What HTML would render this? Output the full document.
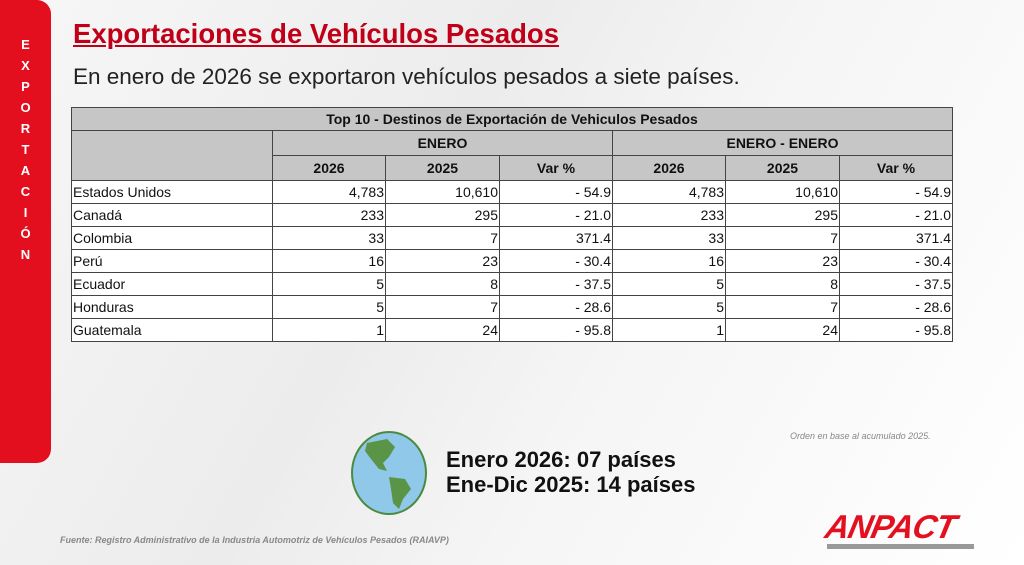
<!DOCTYPE html>
<html><head><meta charset="utf-8"><style>
body{margin:0;width:1024px;height:565px;overflow:hidden;font-family:"Liberation Sans",sans-serif;background:linear-gradient(120deg,#f7f7f7 0%,#ececec 40%,#f5f5f5 60%,#fff 100%);position:relative}
.side{position:absolute;left:0;top:0;width:51px;height:463px;background:#e30f1f;border-radius:0 14px 14px 0}
.side div{position:absolute;left:0;width:51px;text-align:center;color:#fff;font-weight:bold;font-size:13px}
h1{position:absolute;left:73px;top:18px;margin:0;font-size:27.5px;color:#c00018;text-decoration:underline;font-weight:bold}
.sub{position:absolute;left:73px;top:64px;font-size:22.5px;color:#222}
table{position:absolute;left:71px;top:107px;border-collapse:collapse;font-size:14px;color:#111}
td{border:1px solid #444;padding:0 1px;height:23px;box-sizing:border-box}
.h td{background:#c6c6c6;font-weight:bold;text-align:center}
.d td{background:#fff;text-align:right}
.d td:first-child{text-align:left;border-left:1px solid #444}
.globe{position:absolute;left:351px;top:431px;width:72px;height:80px;border-radius:50%;background:#8fc8e8;border:2px solid #4c8b3f;overflow:hidden}
.big{position:absolute;left:446px;top:447px;font-size:22px;font-weight:bold;color:#111;line-height:25px}
.note{position:absolute;left:790px;top:431px;font-size:9px;font-style:italic;color:#888}
.src{position:absolute;left:60px;top:535px;font-size:9px;font-style:italic;font-weight:bold;color:#888}
.logo{position:absolute;left:826px;top:508px;font-size:33px;font-weight:900;font-style:italic;color:#e3101f;letter-spacing:-1px;transform:skewX(-12deg)}
.bar{position:absolute;left:827px;top:544px;width:147px;height:5px;background:#999}
</style></head><body>
<div class="side">
<div style="top:37px">E</div><div style="top:58px">X</div><div style="top:79px">P</div><div style="top:100px">O</div><div style="top:121px">R</div><div style="top:142px">T</div><div style="top:163px">A</div><div style="top:184px">C</div><div style="top:205px">I</div><div style="top:226px">Ó</div><div style="top:247px">N</div>
</div>
<h1>Exportaciones de Vehículos Pesados</h1>
<div class="sub">En enero de 2026 se exportaron vehículos pesados a siete países.</div>
<table>
<colgroup><col style="width:201px"><col style="width:113px"><col style="width:114px"><col style="width:113px"><col style="width:113px"><col style="width:114px"><col style="width:113px"></colgroup>
<tr class="h"><td colspan="7" style="height:23px">Top 10 - Destinos de Exportación de Vehiculos Pesados</td></tr>
<tr class="h"><td rowspan="2"></td><td colspan="3" style="height:25px">ENERO</td><td colspan="3">ENERO - ENERO</td></tr>
<tr class="h"><td style="height:25px">2026</td><td>2025</td><td>Var %</td><td>2026</td><td>2025</td><td>Var %</td></tr>
<tr class="d"><td>Estados Unidos</td><td>4,783</td><td>10,610</td><td>- 54.9</td><td>4,783</td><td>10,610</td><td>- 54.9</td></tr>
<tr class="d"><td>Canadá</td><td>233</td><td>295</td><td>- 21.0</td><td>233</td><td>295</td><td>- 21.0</td></tr>
<tr class="d"><td>Colombia</td><td>33</td><td>7</td><td>371.4</td><td>33</td><td>7</td><td>371.4</td></tr>
<tr class="d"><td>Perú</td><td>16</td><td>23</td><td>- 30.4</td><td>16</td><td>23</td><td>- 30.4</td></tr>
<tr class="d"><td>Ecuador</td><td>5</td><td>8</td><td>- 37.5</td><td>5</td><td>8</td><td>- 37.5</td></tr>
<tr class="d"><td>Honduras</td><td>5</td><td>7</td><td>- 28.6</td><td>5</td><td>7</td><td>- 28.6</td></tr>
<tr class="d"><td>Guatemala</td><td>1</td><td>24</td><td>- 95.8</td><td>1</td><td>24</td><td>- 95.8</td></tr>
</table>
<div class="globe"><svg width="72" height="80"><path d="M14 10 L34 6 L42 14 L36 24 L30 30 L34 38 L26 36 L18 26 L12 18Z" fill="#5a9446"/><path d="M36 44 L52 46 L58 56 L50 66 L46 76 L40 70 L38 56Z" fill="#5a9446"/></svg></div>
<div class="big">Enero 2026: 07 países<br>Ene-Dic 2025: 14 países</div>
<div class="note">Orden en base al acumulado 2025.</div>
<div class="src">Fuente: Registro Administrativo de la Industria Automotriz de Vehículos Pesados (RAIAVP)</div>
<div class="logo">ANPACT</div>
<div class="bar"></div>
</body></html>
